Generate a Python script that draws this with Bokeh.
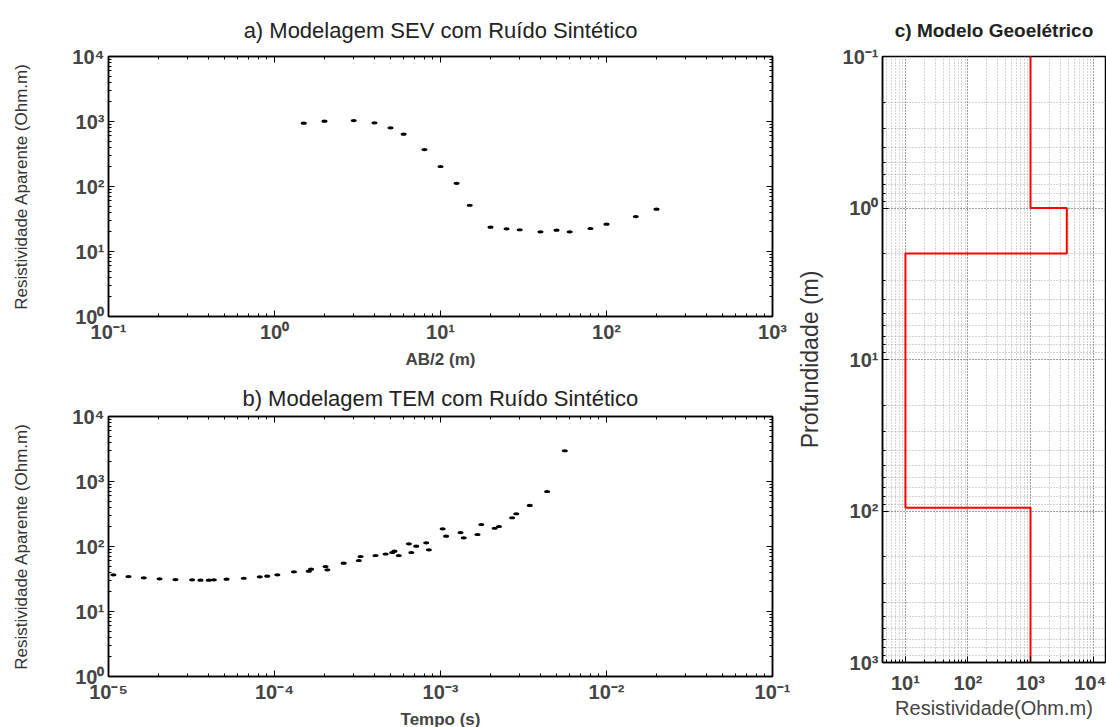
import numpy as np
from bokeh.plotting import figure
from bokeh.models import Range1d, LogAxis, LogTicker, CustomJSTickFormatter
from bokeh.layouts import row, column
from bokeh.embed import file_html
from bokeh.resources import INLINE

# ---------------- data ----------------
# a) SEV: AB/2 (m) vs apparent resistivity (Ohm.m)
sev_ab2 = [1.5, 2, 3, 4, 5, 6, 8, 10, 12.5, 15, 20, 25, 30, 40, 50, 60, 80, 100, 150, 200]
sev_rho = [942, 1012, 1035, 955, 800, 638, 370, 203, 112, 51.5, 23.7, 22.3, 21.6, 20.1,
           21.3, 20.1, 22.6, 26.3, 34.5, 44.8]

# b) TEM: time (s) vs apparent resistivity (Ohm.m)
tem_t = [1.07e-5, 1.32e-5, 1.63e-5, 2.03e-5, 2.53e-5, 3.19e-5, 3.58e-5, 4.02e-5, 4.31e-5,
         5.14e-5, 6.53e-5, 8.15e-5, 9.04e-5, 1.04e-4, 1.31e-4, 1.61e-4, 1.66e-4, 2.03e-4,
         2.08e-4, 2.61e-4, 3.22e-4, 3.30e-4, 4.06e-4, 4.67e-4, 5.12e-4, 5.28e-4, 5.61e-4,
         6.45e-4, 6.67e-4, 7.14e-4, 8.20e-4, 8.51e-4, 1.03e-3, 1.08e-3, 1.32e-3, 1.38e-3,
         1.67e-3, 1.76e-3, 2.12e-3, 2.25e-3, 2.70e-3, 2.86e-3, 3.45e-3, 4.39e-3, 5.61e-3]
tem_rho = [36.7, 34.5, 33.0, 31.8, 31.0, 30.7, 30.3, 30.3, 30.7,
           31.4, 32.5, 34.2, 34.9, 36.7, 40.8, 41.7, 44.8, 49.2,
           43.8, 55.3, 60.9, 70.2, 72.7, 76.7, 80.9, 84.7, 72.7,
           110, 80.9, 101, 114, 89.0, 187, 144, 164, 136,
           153, 218, 191, 203, 277, 319, 428, 702, 2970]

# c) geoelectric model: layer resistivities and depth boundaries (m)
layer_rho = [1000, 3800, 10, 1000]
layer_top = [0.1, 1, 2, 95]
layer_bot = [1, 2, 95, 1000]

FONT = "Liberation Sans"

sup_js = """
const s = {"-":"\u207b","0":"\u2070","1":"\u00b9","2":"\u00b2","3":"\u00b3","4":"\u2074",
           "5":"\u2075","6":"\u2076","7":"\u2077","8":"\u2078","9":"\u2079"};
const e = Math.round(Math.log10(tick));
return "10" + String(e).split("").map(c => s[c]).join("");
"""


def style_axis(ax, show_labels=True, size="20px"):
    ax.ticker = LogTicker(num_minor_ticks=10)
    if show_labels:
        ax.formatter = CustomJSTickFormatter(code=sup_js)
        ax.major_label_text_font_size = size
    else:
        ax.formatter = CustomJSTickFormatter(code="return '';")
        ax.major_label_text_font_size = "1px"
        ax.major_label_standoff = 0
    ax.major_tick_in = 6
    ax.major_tick_out = 0
    ax.minor_tick_in = 3
    ax.minor_tick_out = 0
    ax.major_tick_line_color = "black"
    ax.minor_tick_line_color = "black"
    ax.axis_line_color = "black"
    ax.axis_line_width = 1.5
    ax.major_label_text_font = FONT
    ax.major_label_text_font_style = "bold"
    if show_labels:
        ax.major_label_standoff = 4
    ax.axis_label_text_font = FONT
    ax.axis_label_text_font_style = "normal"


def data_fig(xr, yr, title, xlabel, ylabel, border_top, frame_h, border_bottom, title_standoff):
    p = figure(x_axis_type="log", y_axis_type="log",
               x_range=Range1d(*xr), y_range=Range1d(*yr),
               output_backend="svg", toolbar_location=None,
               min_border_left=108, min_border_right=18, min_border_top=border_top,
               min_border_bottom=border_bottom)
    p.frame_width = 664
    p.frame_height = frame_h
    p.grid.visible = False
    p.outline_line_color = "black"
    p.outline_line_width = 1.5
    p.title.text = title
    p.title.align = "center"
    p.title.text_font = FONT
    p.title.text_font_size = "22px"
    p.title.text_font_style = "normal"
    p.title.text_color = "#222222"
    p.title.standoff = title_standoff
    for ax in p.xaxis + p.yaxis:
        style_axis(ax)
    p.xaxis.axis_label = xlabel
    p.xaxis.axis_label_text_font_style = "bold"
    p.xaxis.axis_label_text_font_size = "17px"
    p.xaxis.axis_label_standoff = 4
    p.yaxis.axis_label = ylabel
    p.yaxis.axis_label_text_font_size = "17px"
    p.yaxis.axis_label_text_color = "#333333"
    p.yaxis.axis_label_standoff = 38
    top_ax = LogAxis()
    style_axis(top_ax, show_labels=False)
    p.add_layout(top_ax, "above")
    right_ax = LogAxis()
    style_axis(right_ax, show_labels=False)
    p.add_layout(right_ax, "right")
    return p


pa = data_fig((0.1, 1000), (1, 1e4), "a) Modelagem SEV com Ruído Sintético", "AB/2 (m)",
              "Resistividade Aparente (Ohm.m)", 56, 260, 60, 28)
pa.ellipse(x=sev_ab2, y=sev_rho, width=6, height=3.2, width_units="screen",
           height_units="screen", fill_color="black", line_color=None)

pb = data_fig((1e-5, 0.1), (1, 1e4), "b) Modelagem TEM com Ruído Sintético", "Tempo (s)",
              "Resistividade Aparente (Ohm.m)", 40, 260, 51, 12)
pb.ellipse(x=tem_t, y=tem_rho, width=6, height=3.2, width_units="screen",
           height_units="screen", fill_color="black", line_color=None)

# c) model
pc = figure(x_axis_type="log", y_axis_type="log",
            x_range=Range1d(4.3, 15800), y_range=Range1d(1000, 0.1),
            output_backend="svg", toolbar_location=None,
            min_border_left=92, min_border_right=1, min_border_top=56, min_border_bottom=65)
pc.frame_width = 223
pc.frame_height = 606
pc.outline_line_color = "black"
pc.outline_line_width = 1.5
pc.title.text = "c) Modelo Geoelétrico"
pc.title.align = "center"
pc.title.text_font = FONT
pc.title.text_font_size = "19px"
pc.title.text_font_style = "bold"
pc.title.text_color = "#222222"
pc.title.standoff = 31
for ax in pc.xaxis + pc.yaxis:
    style_axis(ax)
pc.xaxis.major_label_standoff = 9
pc.xaxis.axis_label = "Resistividade(Ohm.m)"
pc.xaxis.axis_label_text_font_size = "20px"
pc.xaxis.axis_label_text_color = "#444444"
pc.xaxis.axis_label_standoff = 0
pc.yaxis.axis_label = "Profundidade (m)"
pc.yaxis.axis_label_text_font_size = "23px"
pc.yaxis.axis_label_text_color = "#333333"
pc.yaxis.axis_label_standoff = 17
for g in pc.grid:
    g.grid_line_color = "#777777"
    g.grid_line_dash = "1 2"
    g.grid_line_alpha = 0.8
    g.minor_grid_line_color = "#888888"
    g.minor_grid_line_dash = "1 2"
    g.minor_grid_line_alpha = 0.7
    g.ticker = LogTicker(num_minor_ticks=10)

# build step line from layers
step_x, step_y = [], []
for r, t, b in zip(layer_rho, layer_top, layer_bot):
    step_x += [r, r]
    step_y += [t, b]
pc.line(step_x, step_y, line_color="red", line_width=2)

layout = row(column(pa, pb), pc)
open("out.html", "w").write(file_html(layout, INLINE))
